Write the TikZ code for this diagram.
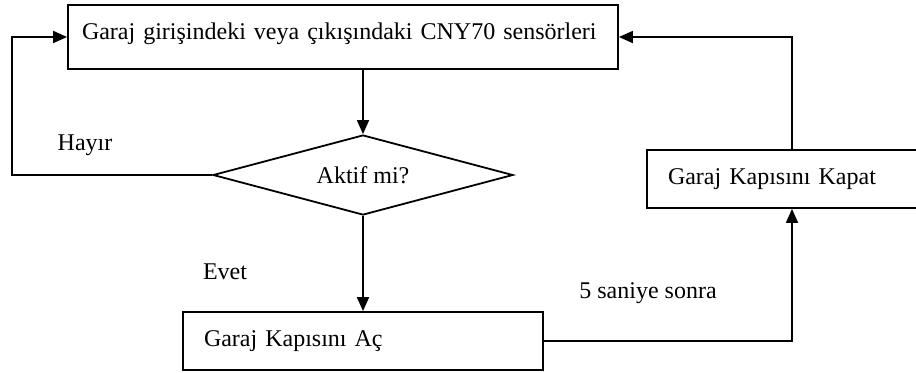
\documentclass[tikz,border=0pt]{standalone}
\usepackage{fontspec}
\setmainfont{Liberation Serif}
\usetikzlibrary{
	shapes.geometric,
	arrows.meta,
	positioning
}
\tikzstyle{kutu} = [draw, line width=0.9pt, align=left, inner xsep=10.5pt, inner ysep=0pt]
\tikzstyle{ok} = [line width=0.9pt, -{Triangle[length=7pt, width=6pt]}]

\begin{document}
\begin{tikzpicture}[x=0.5pt, y=-0.5pt, font=\fontsize{12}{14}\selectfont]
		
		\useasboundingbox (0,0) rectangle (916,372);
		
		% ====== Bloklar ======
		\node[kutu, inner xsep=7pt, minimum width=275pt, minimum height=32pt, text width=261pt, text depth=0.55em]
		(sensor) at (343,37) {Garaj girişindeki veya çıkışındaki CNY70 sensörleri};
		
		\node[draw, diamond, shape aspect=3.75, line width=0.9pt, minimum width=150pt, minimum height=40pt, inner sep=0pt]
		(aktif) at (363,175) {Aktif mi?};
		
		\node[kutu, minimum width=180pt, minimum height=29pt, text width=159pt]
		(ac) at (363,341) {Garaj Kapısını Aç};
		
		\node[kutu, minimum width=145pt, minimum height=29pt, text width=124pt]
		(kapat) at (792,179) {Garaj Kapısını Kapat};
		
		% ====== Etiketler ======
		\node (hayir) at (85,145) {Hayır};
		\node (evet) at (225,272) {Evet};
		\node (sure) at (648,293) {5 saniye sonra};
		
		% ====== Bağlantılar ======
		\draw[ok] (aktif.north |- sensor.south) -- (aktif.north);
		\draw[ok] (aktif.south) -- (ac.north);
		
		\coordinate (geri) at (12,175);
		\draw[ok] (aktif.west) -- (geri) |- (sensor.west);
		
		\draw[ok] (ac.east) -| (kapat.south);
		\draw[ok] (kapat.north) |- (sensor.east);
		
	\end{tikzpicture}
\end{document}
